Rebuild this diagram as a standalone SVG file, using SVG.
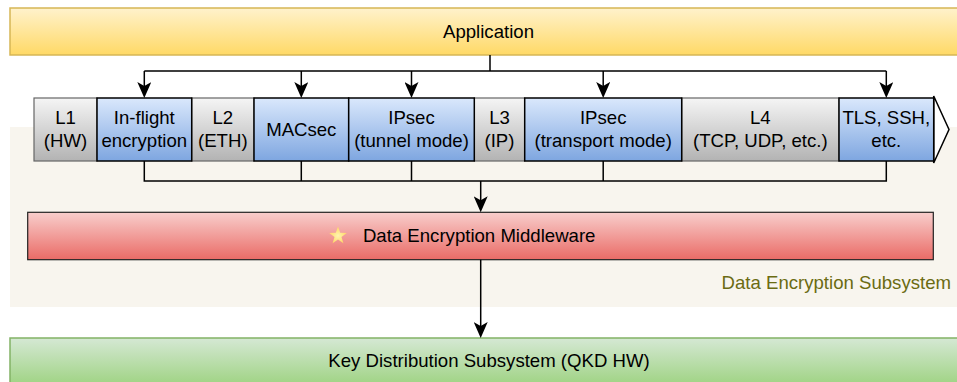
<svg xmlns="http://www.w3.org/2000/svg" width="957" height="382" viewBox="0 0 957 382">
  <defs>
    <linearGradient id="gApp" x1="0" y1="0" x2="0" y2="1">
      <stop offset="0" stop-color="#fff2cc"/>
      <stop offset="1" stop-color="#ffd966"/>
    </linearGradient>
    <linearGradient id="gBlue" x1="0" y1="0" x2="0" y2="1">
      <stop offset="0" stop-color="#dae8fc"/>
      <stop offset="1" stop-color="#7ea6e0"/>
    </linearGradient>
    <linearGradient id="gGray" x1="0" y1="0" x2="0" y2="1">
      <stop offset="0" stop-color="#f5f5f5"/>
      <stop offset="1" stop-color="#b3b3b3"/>
    </linearGradient>
    <linearGradient id="gRed" x1="0" y1="0" x2="0" y2="1">
      <stop offset="0" stop-color="#f8cecc"/>
      <stop offset="1" stop-color="#ea6b66"/>
    </linearGradient>
    <linearGradient id="gGreen" x1="0" y1="0" x2="0" y2="1">
      <stop offset="0" stop-color="#d5e8d4"/>
      <stop offset="1" stop-color="#97d077"/>
    </linearGradient>
    <radialGradient id="gStar" cx="0.5" cy="0.55" r="0.5">
      <stop offset="0" stop-color="#fff4b0"/>
      <stop offset="1" stop-color="#ffd966"/>
    </radialGradient>
    <marker id="arrow" viewBox="0 0 16 14" refX="12" refY="7" markerWidth="16" markerHeight="14" markerUnits="userSpaceOnUse" orient="auto">
      <path d="M0,0 L16,7 L0,14 L4,7 Z" fill="#000"/>
    </marker>
  </defs>
  <style>
    text { font-family: "Liberation Sans", Arial, sans-serif; font-size: 18.6px; fill: #000; text-anchor: middle; }
    .gray { fill: url(#gGray); stroke: #666666; stroke-width: 1.2; }
    .blue { fill: url(#gBlue); stroke: #000; stroke-width: 1.5; }
    .wire { fill: none; stroke: #000; stroke-width: 1.5; }
    .arr { fill: none; stroke: #000; stroke-width: 1.5; marker-end: url(#arrow); }
  </style>

  <!-- subsystem panel -->
  <g id="data-encryption-subsystem">
    <rect x="10" y="127" width="947" height="180" fill="#f8f5ee"/>
    <text x="951" y="289" style="text-anchor:end; fill:#6b6b12;">Data Encryption Subsystem</text>
  </g>

  <!-- top application layer -->
  <g id="application">
    <rect x="10" y="8" width="960" height="47" fill="url(#gApp)" stroke="#d6b656" stroke-width="1.5"/>
    <text x="488.5" y="38">Application</text>
  </g>

  <!-- protocol stack bar -->
  <g id="stack-arrow">
    <polygon points="933.7,96 949,129.5 933.7,163" fill="#fff" stroke="#000" stroke-width="1.5" stroke-linejoin="miter"/>
  </g>
  <g id="l1">
    <rect class="gray" x="34" y="98" width="63" height="63"/>
    <text x="65.5" y="124">L1</text>
    <text x="65.5" y="147">(HW)</text>
  </g>
  <g id="l2">
    <rect class="gray" x="191.7" y="98" width="62.3" height="63"/>
    <text x="222.8" y="124">L2</text>
    <text x="222.8" y="147">(ETH)</text>
  </g>
  <g id="l3">
    <rect class="gray" x="474.3" y="98" width="50.4" height="63"/>
    <text x="499.5" y="124">L3</text>
    <text x="499.5" y="147">(IP)</text>
  </g>
  <g id="l4">
    <rect class="gray" x="681.7" y="98" width="157.3" height="63"/>
    <text x="760.3" y="124">L4</text>
    <text x="760.3" y="147">(TCP, UDP, etc.)</text>
  </g>
  <g id="inflight">
    <rect class="blue" x="97" y="98" width="94.7" height="63"/>
    <text x="144.3" y="124">In-flight</text>
    <text x="144.3" y="147">encryption</text>
  </g>
  <g id="macsec">
    <rect class="blue" x="254" y="98" width="94.7" height="63"/>
    <text x="301.3" y="135.5">MACsec</text>
  </g>
  <g id="ipsec-tunnel">
    <rect class="blue" x="348.7" y="98" width="125.6" height="63"/>
    <text x="411.5" y="124">IPsec</text>
    <text x="411.5" y="147">(tunnel mode)</text>
  </g>
  <g id="ipsec-transport">
    <rect class="blue" x="524.7" y="98" width="157" height="63"/>
    <text x="603.2" y="124">IPsec</text>
    <text x="603.2" y="147">(transport mode)</text>
  </g>
  <g id="tls-ssh">
    <rect class="blue" x="839" y="98" width="94.7" height="63"/>
    <text x="886.3" y="124">TLS, SSH,</text>
    <text x="886.3" y="147">etc.</text>
  </g>

  <!-- middleware -->
  <g id="middleware">
    <rect x="27.7" y="212.3" width="905.6" height="47.4" fill="url(#gRed)" stroke="#222" stroke-width="1.2"/>
    <polygon points="338,226.5 340.2,232.8 346.8,232.9 341.5,236.9 343.4,243.2 338,239.4 332.6,243.2 334.5,236.9 329.2,232.9 335.8,232.8" fill="url(#gStar)"/>
    <text x="479.2" y="242">Data Encryption Middleware</text>
  </g>

  <!-- key distribution -->
  <g id="key-distribution">
    <rect x="10" y="338" width="960" height="54" fill="url(#gGreen)" stroke="#82b366" stroke-width="1.5"/>
    <text x="489" y="367">Key Distribution Subsystem (QKD HW)</text>
  </g>

  <!-- connectors -->
  <g id="connectors">
    <path class="wire" d="M490,55 V71 M144.3,71 H886.3"/>
    <path class="arr" d="M144.3,71 V94"/>
    <path class="arr" d="M301.3,71 V94"/>
    <path class="arr" d="M411.5,71 V94"/>
    <path class="arr" d="M603.2,71 V94"/>
    <path class="arr" d="M886.3,71 V94"/>
    <path class="wire" d="M144.3,161 V181 H886.3 V161 M301.3,161 V181 M411.5,161 V181 M603.2,161 V181"/>
    <path class="arr" d="M480.7,181 V208.3"/>
    <path class="arr" d="M480.7,259.7 V334"/>
  </g>
</svg>
